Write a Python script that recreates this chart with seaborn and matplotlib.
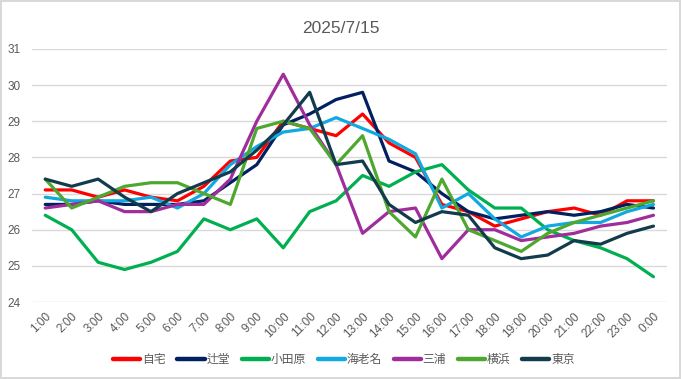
import pandas as pd
import seaborn as sns
import matplotlib.pyplot as plt

# === datos ===
hours = [f"{h}:00" for h in range(1, 24)] + ["0:00"]

jitaku = [27.1, 27.1, 26.9, 27.1, 26.9, 26.8, 27.2, 27.9, 28.0, 29.0, 28.8, 28.6,
          29.2, 28.4, 28.0, 26.7, 26.5, 26.1, 26.3, 26.5, 26.6, 26.4, 26.8, 26.8]
tsujido = [26.7, 26.7, 26.8, 26.7, 26.7, 26.7, 26.8, 27.3, 27.8, 28.9, 29.2, 29.6,
           29.8, 27.9, 27.6, 27.0, 26.5, 26.3, 26.4, 26.5, 26.4, 26.5, 26.7, 26.6]
odawara = [26.4, 26.0, 25.1, 24.9, 25.1, 25.4, 26.3, 26.0, 26.3, 25.5, 26.5, 26.8,
           27.5, 27.2, 27.6, 27.8, 27.1, 26.6, 26.6, 26.0, 25.7, 25.5, 25.2, 24.7]
ebina = [26.9, 26.8, 26.8, 26.8, 26.9, 26.6, 27.0, 27.8, 28.3, 28.7, 28.8, 29.1,
         28.8, 28.5, 28.1, 26.6, 27.0, 26.3, 25.8, 26.1, 26.2, 26.2, 26.5, 26.7]
miura = [26.6, 26.7, 26.8, 26.5, 26.5, 26.7, 26.7, 27.4, 29.0, 30.3, 28.9, 27.8,
         25.9, 26.5, 26.6, 25.2, 26.0, 26.0, 25.7, 25.8, 25.9, 26.1, 26.2, 26.4]
yokohama = [27.4, 26.6, 26.9, 27.2, 27.3, 27.3, 27.0, 26.7, 28.8, 29.0, 28.8, 27.8,
            28.6, 26.5, 25.8, 27.4, 26.0, 25.7, 25.4, 25.9, 26.2, 26.4, 26.6, 26.8]
tokyo = [27.4, 27.2, 27.4, 26.9, 26.5, 27.0, 27.3, 27.6, 28.2, 28.9, 29.8, 27.8,
         27.9, 26.7, 26.2, 26.5, 26.4, 25.5, 25.2, 25.3, 25.7, 25.6, 25.9, 26.1]

series_names = ["自宅", "辻堂", "小田原", "海老名", "三浦", "横浜", "東京"]
series_values = [jitaku, tsujido, odawara, ebina, miura, yokohama, tokyo]
colors = ["#FF0000", "#002060", "#00B050", "#12A8E0", "#A02D9C", "#4EA72E", "#123B4C"]

df = pd.DataFrame({name: vals for name, vals in zip(series_names, series_values)})
df["hora"] = hours
df_long = df.melt(id_vars="hora", var_name="lugar", value_name="temp")

# === estilo ===
sns.set_style("white")
plt.rcParams['font.family'] = ['Liberation Sans', 'Noto Sans CJK JP', 'DejaVu Sans']

fig = plt.figure(figsize=(6.81, 3.79), dpi=100)
fig.patch.set_edgecolor('#D9D9D9')
fig.patch.set_linewidth(1.5)
ax = fig.add_axes([0.047, 0.203, 0.932, 0.668])

sns.lineplot(data=df_long, x="hora", y="temp", hue="lugar", hue_order=series_names,
             palette=dict(zip(series_names, colors)), sort=False, linewidth=2.3,
             ax=ax, legend=True)

ax.set_xlim(-0.5, len(hours) - 0.5)
ax.set_ylim(24, 31)
ax.set_yticks(range(24, 32))
ax.grid(axis='y', color='#D9D9D9', linewidth=1)
ax.set_axisbelow(True)
for s in ax.spines.values():
    s.set_visible(False)
ax.set_xlabel("")
ax.set_ylabel("")
ax.tick_params(axis='both', length=0, colors='#595959', labelsize=8.5)
ax.tick_params(axis='y', pad=8)
plt.setp(ax.get_xticklabels(), rotation=45, ha='right', rotation_mode='anchor')
ax.tick_params(axis='x', pad=6)

handles, labels = ax.get_legend_handles_labels()
ax.get_legend().remove()
for h in handles:
    h.set_linewidth(3.2)
leg = fig.legend(handles, labels, loc='center', bbox_to_anchor=(0.505, 0.05), ncol=7,
                 frameon=False, fontsize=8.5, handlelength=2.3, handletextpad=0.15,
                 columnspacing=1.0)
for t in leg.get_texts():
    t.set_color('#595959')

fig.suptitle("2025/7/15", y=0.945, fontsize=12.5, color='#595959')

fig.savefig("out.png", dpi=100)
